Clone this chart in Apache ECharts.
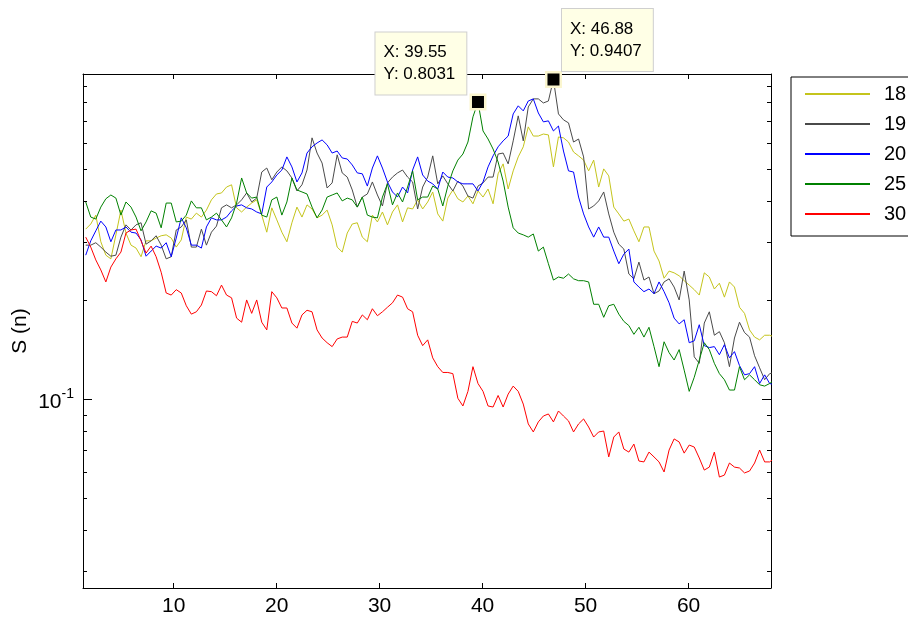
<!DOCTYPE html>
<html>
<head>
<meta charset="utf-8">
<script src="https://cdn.jsdelivr.net/npm/echarts@6/dist/echarts.min.js"></script>
<style>
  html, body { margin: 0; padding: 0; background: #fff; }
  #chart { width: 908px; height: 617px; }
</style>
</head>
<body>
<div id="chart"></div>
<script>
// samples sit on a grid of 1000/2048 in X, starting at sample 3
const xStep = 1000 / 2048;
const firstSample = 3;

const seriesNames = ['18', '19', '20', '25', '30'];

const s18 = [0.330,0.342,0.364,0.302,0.275,0.268,0.317,0.377,0.321,0.295,0.289,0.272,0.304,0.304,0.310,0.315,0.317,0.310,0.291,0.306,0.359,0.354,0.369,0.359,
  0.377,0.405,0.422,0.425,0.443,0.450,0.383,0.372,0.385,0.396,0.405,0.364,0.323,0.383,0.352,0.323,0.302,0.345,0.385,0.359,0.391,0.380,0.357,
  0.364,0.377,0.340,0.291,0.281,0.321,0.342,0.345,0.312,0.302,0.364,0.347,0.372,0.340,0.372,0.391,0.347,0.383,0.380,0.405,0.380,0.399,0.428,
  0.367,0.349,0.410,0.434,0.408,0.399,0.416,0.394,0.431,0.413,0.437,0.394,0.486,0.521,0.437,0.496,0.547,0.587,0.675,0.633,0.633,0.642,0.638,0.510,
  0.629,0.625,0.607,0.566,0.551,0.535,0.496,0.535,0.443,0.503,0.479,0.385,0.367,0.349,0.354,0.326,0.302,0.335,0.335,0.283,0.264,0.234,0.246,
  0.243,0.238,0.230,0.223,0.216,0.208,0.243,0.236,0.217,0.226,0.205,0.228,0.220,0.191,0.183,0.163,0.155,0.152,0.157,0.157,0.155];

const s19 = [0.295,0.295,0.300,0.291,0.281,0.273,0.275,0.312,0.340,0.328,0.340,0.345,0.297,0.304,0.315,0.295,0.268,0.272,0.328,0.335,0.352,0.291,0.291,0.330,
  0.295,0.323,0.337,0.383,0.391,0.383,0.391,0.405,0.425,0.399,0.410,0.492,0.506,0.466,0.492,0.510,0.496,0.472,0.431,0.450,0.499,0.625,0.562,
  0.524,0.440,0.456,0.555,0.489,0.475,0.434,0.385,0.413,0.422,0.459,0.419,0.388,0.456,0.475,0.489,0.499,0.475,0.459,0.380,0.443,0.475,0.551,
  0.453,0.479,0.453,0.431,0.462,0.446,0.416,0.410,0.446,0.456,0.475,0.475,0.558,0.562,0.521,0.612,0.729,0.612,0.776,0.821,0.821,0.798,0.809,0.9407,
  0.739,0.709,0.694,0.607,0.620,0.547,0.380,0.388,0.402,0.428,0.367,0.323,0.297,0.287,0.241,0.233,0.262,0.231,0.236,0.210,0.214,0.228,0.233,
  0.220,0.201,0.246,0.201,0.135,0.129,0.171,0.185,0.157,0.161,0.149,0.126,0.154,0.172,0.160,0.155,0.136,0.125,0.115,0.120,0.121];

const s20 = [0.275,0.304,0.326,0.349,0.335,0.302,0.328,0.328,0.335,0.323,0.321,0.306,0.273,0.283,0.293,0.289,0.300,0.272,0.310,0.357,0.333,0.295,0.295,0.289,
  0.335,0.357,0.352,0.352,0.359,0.375,0.388,0.391,0.383,0.380,0.372,0.367,0.443,0.459,0.482,0.499,0.547,0.510,0.459,0.489,0.562,0.587,0.603,
  0.616,0.595,0.562,0.570,0.543,0.539,0.517,0.489,0.486,0.446,0.506,0.551,0.506,0.459,0.428,0.413,0.443,0.425,0.499,0.547,0.482,0.462,0.453,
  0.437,0.492,0.475,0.472,0.459,0.453,0.453,0.453,0.431,0.459,0.510,0.551,0.587,0.612,0.633,0.739,0.782,0.755,0.809,0.821,0.744,0.699,0.704,0.656,
  0.679,0.570,0.496,0.492,0.413,0.367,0.335,0.312,0.335,0.312,0.312,0.283,0.259,0.277,0.287,0.228,0.220,0.213,0.217,0.210,0.228,0.213,0.197,
  0.177,0.170,0.175,0.149,0.151,0.169,0.146,0.144,0.145,0.137,0.147,0.134,0.140,0.127,0.119,0.120,0.126,0.112,0.119,0.112,0.111];

const s25 = [0.399,0.359,0.354,0.385,0.408,0.419,0.410,0.364,0.399,0.385,0.359,0.326,0.347,0.375,0.369,0.333,0.396,0.396,0.347,0.349,0.364,0.402,0.383,0.383,
  0.352,0.359,0.369,0.352,0.335,0.357,0.396,0.472,0.425,0.410,0.413,0.364,0.359,0.405,0.413,0.364,0.399,0.472,0.434,0.428,0.422,0.385,0.357,
  0.377,0.413,0.419,0.425,0.402,0.410,0.405,0.385,0.413,0.364,0.359,0.357,0.413,0.453,0.391,0.425,0.399,0.443,0.496,0.405,0.413,0.413,0.446,
  0.437,0.388,0.446,0.496,0.535,0.558,0.607,0.724,0.8031,0.656,0.620,0.578,0.528,0.462,0.385,0.333,0.321,0.317,0.312,0.319,0.283,0.291,0.259,0.231,
  0.236,0.234,0.241,0.233,0.230,0.230,0.228,0.195,0.195,0.178,0.193,0.195,0.182,0.173,0.168,0.158,0.166,0.155,0.166,0.145,0.126,0.150,0.139,
  0.132,0.142,0.123,0.106,0.117,0.132,0.149,0.142,0.129,0.120,0.115,0.107,0.107,0.126,0.115,0.119,0.115,0.111,0.110,0.112,0.115];

const s30 = [0.312,0.291,0.266,0.248,0.228,0.253,0.268,0.281,0.321,0.328,0.330,0.304,0.279,0.293,0.272,0.244,0.211,0.208,0.216,0.211,0.193,0.182,0.185,0.194,
  0.214,0.213,0.207,0.223,0.208,0.204,0.177,0.172,0.201,0.183,0.201,0.172,0.163,0.213,0.204,0.190,0.190,0.171,0.165,0.181,0.187,0.185,0.163,
  0.154,0.149,0.145,0.153,0.155,0.155,0.173,0.171,0.181,0.175,0.189,0.180,0.185,0.191,0.197,0.208,0.205,0.189,0.185,0.157,0.146,0.152,0.134,
  0.126,0.121,0.121,0.120,0.101,0.0957,0.106,0.126,0.112,0.106,0.0957,0.0950,0.103,0.0950,0.104,0.110,0.106,0.0970,0.0844,0.0798,0.0856,0.0892,0.0905,0.0856,
  0.0924,0.0892,0.0862,0.0798,0.0844,0.0874,0.0826,0.0770,0.0798,0.0803,0.0670,0.0770,0.0798,0.0708,0.0693,0.0733,0.0651,0.0647,0.0693,0.0670,0.0647,0.0603,0.0703,
  0.0760,0.0744,0.0688,0.0728,0.0718,0.0665,0.0611,0.0624,0.0693,0.0582,0.0590,0.0642,0.0624,0.0620,0.0599,0.0607,0.0642,0.0703,0.0647,0.0647,0.0665];

const colors = ['#c4c41c', '#4a4a4a', '#0000ff', '#008000', '#ff0000'];

const xMin = 1.2, xMax = 68.0;
const yMin = 0.02677, yMax = 0.9772;
const xTicks = [10, 20, 30, 40, 50, 60];
const yMinorTicks = [0.03, 0.04, 0.05, 0.06, 0.07, 0.08, 0.09, 0.2, 0.3, 0.4, 0.5, 0.6, 0.7, 0.8, 0.9];
const yMajorTicks = [0.1];

// data tips: [series index, X, Y]
const tipSeries = [3, 1];
const tipX = [39.55, 46.88];
const tipY = [0.8031, 0.9407];
const tipOffset = [[-94, -61], [17, -62]];

const FONT = 'Liberation Sans, Arial, sans-serif';
const lg = v => Math.log10(v);

const allValues = [s18, s19, s20, s25, s30];
const series = allValues.map((vals, si) => {
  const s = {
    name: seriesNames[si],
    type: 'line',
    xAxisIndex: 0,
    yAxisIndex: 0,
    symbol: 'none',
    lineStyle: { color: colors[si], width: 1 },
    itemStyle: { color: colors[si] },
    data: vals.map((v, i) => [(firstSample + i) * xStep, v])
  };
  const ti = tipSeries.indexOf(si);
  if (ti >= 0) {
    s.markPoint = {
      symbol: 'rect',
      symbolSize: 14.5,
      itemStyle: { color: '#000', borderColor: '#fbf6cf', borderWidth: 2.5 },
      label: {
        show: true,
        position: tipOffset[ti],
        align: 'left',
        verticalAlign: 'top',
        formatter: 'X: ' + tipX[ti] + '\nY: ' + tipY[ti],
        fontFamily: FONT,
        fontSize: 17,
        lineHeight: 22,
        color: '#000',
        backgroundColor: '#ffffe6',
        borderColor: '#cfcfcf',
        borderWidth: 1,
        padding: [9, 11, 9, 8]
      },
      data: [{ coord: [tipX[ti], tipY[ti]] }]
    };
  }
  return s;
});

const tickAxis = (position, ticks, len, withLabel) => ({
  type: 'value',
  position: position,
  min: lg(yMin),
  max: lg(yMax),
  axisLine: { show: false },
  splitLine: { show: false },
  axisTick: { show: true, inside: true, length: len, customValues: ticks.map(lg), lineStyle: { color: '#000', width: 1 } },
  axisLabel: withLabel ? {
    show: true,
    customValues: ticks.map(lg),
    margin: 9,
    formatter: v => '{b|10}{s|' + Math.round(v) + '}',
    rich: {
      b: { fontFamily: FONT, fontSize: 21, color: '#000', lineHeight: 26, verticalAlign: 'bottom' },
      s: { fontFamily: FONT, fontSize: 14, color: '#000', lineHeight: 26, verticalAlign: 'top' }
    }
  } : { show: false }
});

const chart = echarts.init(document.getElementById('chart'), null, { renderer: 'canvas' });
chart.setOption({
  animation: false,
  backgroundColor: '#fff',
  textStyle: { fontFamily: FONT },
  grid: { left: 83, right: 137, top: 74, bottom: 29, containLabel: false },
  legend: {
    orient: 'vertical',
    left: 791,
    top: 77,
    padding: [7, 40, 12, 13],
    itemGap: 10,
    itemWidth: 65,
    itemHeight: 20,
    itemStyle: { opacity: 0 },
    borderColor: '#000',
    borderWidth: 1,
    textStyle: { fontFamily: FONT, fontSize: 20, color: '#000', padding: [0, 0, 0, 9] },
    data: seriesNames
  },
  xAxis: [
    {
      type: 'value', position: 'bottom', min: xMin, max: xMax,
      axisLine: { show: true, lineStyle: { color: '#000', width: 1 } },
      axisTick: { show: true, inside: true, length: 5, customValues: xTicks, lineStyle: { color: '#000' } },
      axisLabel: { show: true, customValues: xTicks, margin: 8, fontFamily: FONT, fontSize: 21, color: '#000' },
      splitLine: { show: false }
    },
    {
      type: 'value', position: 'top', min: xMin, max: xMax,
      axisLine: { show: true, lineStyle: { color: '#000', width: 1 } },
      axisTick: { show: true, inside: true, length: 5, customValues: xTicks, lineStyle: { color: '#000' } },
      axisLabel: { show: false },
      splitLine: { show: false }
    }
  ],
  yAxis: [
    {
      type: 'log', logBase: 10, position: 'left', min: yMin, max: yMax,
      name: 'S (n)', nameLocation: 'middle', nameGap: 52,
      nameTextStyle: { fontFamily: FONT, fontSize: 21, color: '#000' },
      axisLine: { show: true, lineStyle: { color: '#000', width: 1 } },
      axisTick: { show: false },
      axisLabel: { show: false },
      splitLine: { show: false }
    },
    tickAxis('left', yMinorTicks, 4, false),
    tickAxis('left', yMajorTicks, 9, true),
    Object.assign(tickAxis('right', yMinorTicks, 4, false), { axisLine: { show: true, lineStyle: { color: '#000', width: 1 } } }),
    tickAxis('right', yMajorTicks, 9, false)
  ],
  series: series
});
</script>
</body>
</html>
